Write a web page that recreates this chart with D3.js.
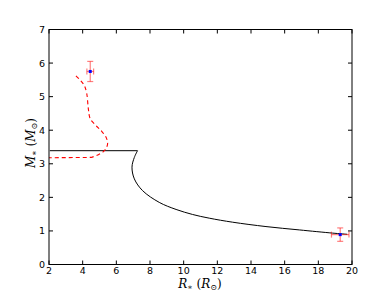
<!DOCTYPE html>
<html><head><meta charset="utf-8">
<script src="https://cdn.jsdelivr.net/npm/d3@7"></script>
<style>body{margin:0;background:#fff}svg{display:block}</style>
</head><body>
<svg id="c" width="392" height="294"></svg>
<script>
// Black model track (R, M)
const trackR = [2.05, 7.26, 7.07, 6.93, 7.07, 7.56, 8.55, 9.55, 10.53, 11.52, 12.91, 14.89, 16.87, 18.85, 19.72];
const trackM = [3.39, 3.39, 3.19, 2.90, 2.55, 2.20, 1.85, 1.64, 1.49, 1.38, 1.26, 1.13, 1.03, 0.935, 0.90];
// Red dashed track
const dashR = [3.60, 3.86, 4.10, 4.24, 4.34, 4.45, 4.79, 5.09, 5.39, 5.48, 5.29, 4.89, 4.50, 2.0];
const dashM = [5.62, 5.49, 5.33, 5.10, 4.63, 4.34, 4.14, 3.99, 3.79, 3.59, 3.39, 3.26, 3.19, 3.18];
// Observed points with errors
const obsR = [4.45, 19.3];
const obsM = [5.75, 0.89];
const obsRerr = [0.2, 0.52];
const obsMerr = [0.3, 0.2];
const xTicks = [2,4,6,8,10,12,14,16,18,20];
const yTicks = [0,1,2,3,4,5,6,7];

const svg = d3.select("#c");
const x = d3.scaleLinear().domain([2,20]).range([49,352]);
const y = d3.scaleLinear().domain([0,7]).range([264.5,29.5]);

const line = d3.line().x(d=>x(d[0])).y(d=>y(d[1]));
const curve = d3.line().x(d=>x(d[0])).y(d=>y(d[1])).curve(d3.curveCatmullRom.alpha(0.5));

// black track: straight horizontal then curve
const tr = trackR.map((r,i)=>[r,trackM[i]]);
svg.append("path").attr("d", line(tr.slice(0,2)) + curve(tr.slice(1)).replace(/^M/, "L"))
  .attr("fill","none").attr("stroke","#000").attr("stroke-width",1);

const dr = dashR.map((r,i)=>[r,dashM[i]]);
const n = dr.length;
svg.append("path").attr("d", curve(dr.slice(0,n-1)) + "L" + x(dr[n-1][0]) + "," + y(dr[n-1][1]))
  .attr("fill","none").attr("stroke","#ff0000").attr("stroke-width",1.1).attr("stroke-dasharray","4,3");

// error bars
const ec = "rgba(255,0,0,0.5)";
obsR.forEach((r,i)=>{
  const m = obsM[i], cx=x(r), cy=y(m);
  const g = svg.append("g");
  const x0=x(r-obsRerr[i]), x1=x(r+obsRerr[i]), y0=y(m-obsMerr[i]), y1=y(m+obsMerr[i]);
  g.append("line").attr("x1",x0).attr("x2",x1).attr("y1",cy).attr("y2",cy).attr("stroke",ec).attr("stroke-width",1.2);
  g.append("line").attr("x1",cx).attr("x2",cx).attr("y1",y0).attr("y2",y1).attr("stroke",ec).attr("stroke-width",1.2);
  [x0,x1].forEach(xx=>g.append("line").attr("x1",xx).attr("x2",xx).attr("y1",cy-3).attr("y2",cy+3).attr("stroke",ec).attr("stroke-width",1.2));
  [y0,y1].forEach(yy=>g.append("line").attr("x1",cx-3).attr("x2",cx+3).attr("y1",yy).attr("y2",yy).attr("stroke",ec).attr("stroke-width",1.2));
  g.append("rect").attr("x",cx-1.5).attr("y",cy-1.5).attr("width",3).attr("height",3).attr("fill","#0000ff");
});

// frame
const [L,R] = x.range(), [B,T] = y.range();
svg.append("rect").attr("x",L).attr("y",T).attr("width",R-L).attr("height",B-T)
  .attr("fill","none").attr("stroke","#000").attr("stroke-width",1);

// ticks (inside, all sides)
const tk = svg.append("g").attr("stroke","#000").attr("stroke-width",1);
xTicks.forEach(t=>{
  tk.append("line").attr("x1",x(t)).attr("x2",x(t)).attr("y1",B).attr("y2",B-4);
  tk.append("line").attr("x1",x(t)).attr("x2",x(t)).attr("y1",T).attr("y2",T+4);
});
yTicks.forEach(t=>{
  tk.append("line").attr("x1",L).attr("x2",L+4).attr("y1",y(t)).attr("y2",y(t));
  tk.append("line").attr("x1",R).attr("x2",R-4).attr("y1",y(t)).attr("y2",y(t));
});

const font = "DejaVu Sans";
svg.append("g").selectAll("text").data(xTicks).join("text")
  .attr("x",d=>x(d)).attr("y",274).attr("text-anchor","middle")
  .attr("font-family",font).attr("font-size",9.5).text(d=>d);
svg.append("g").selectAll("text").data(yTicks).join("text")
  .attr("x",45).attr("y",d=>y(d)+3.5).attr("text-anchor","end")
  .attr("font-family",font).attr("font-size",9.5).text(d=>d);

// axis labels
const xl = svg.append("text").attr("x",200).attr("y",288).attr("text-anchor","middle")
  .attr("font-family","DejaVu Serif").attr("font-size",12);
xl.append("tspan").attr("font-style","italic").text("R");
xl.append("tspan").attr("font-size",8).attr("dy",2).text("∗");
xl.append("tspan").attr("dy",-2).text(" (");
xl.append("tspan").attr("font-style","italic").text("R");
xl.append("tspan").attr("font-size",8).attr("dy",2).text("⊙");
xl.append("tspan").attr("dy",-2).text(")");

const yl = svg.append("text").attr("transform","translate(35,143) rotate(-90)").attr("text-anchor","middle")
  .attr("font-family","DejaVu Serif").attr("font-size",12);
yl.append("tspan").attr("font-style","italic").text("M");
yl.append("tspan").attr("font-size",8).attr("dy",2).text("∗");
yl.append("tspan").attr("dy",-2).text(" (");
yl.append("tspan").attr("font-style","italic").text("M");
yl.append("tspan").attr("font-size",8).attr("dy",2).text("⊙");
yl.append("tspan").attr("dy",-2).text(")");
</script>
</body></html>
